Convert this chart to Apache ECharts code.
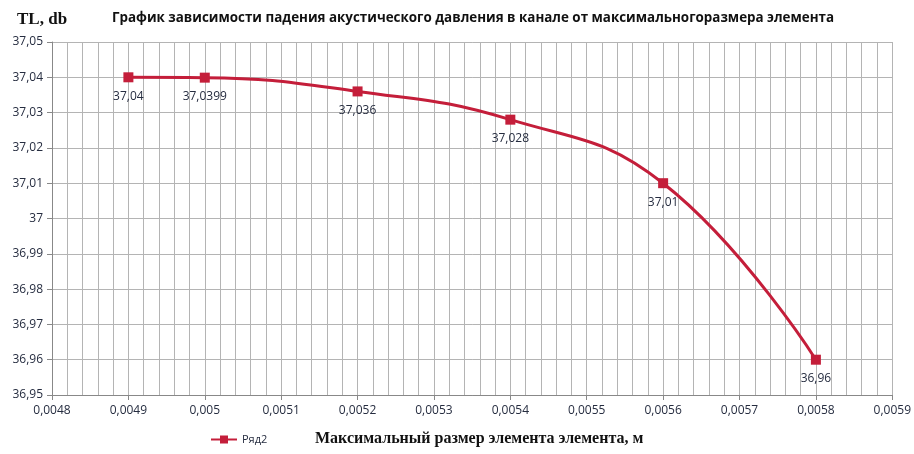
<!DOCTYPE html>
<html><head><meta charset="utf-8">
<script src="https://cdn.jsdelivr.net/npm/echarts@6/dist/echarts.min.js"></script>
<style>html,body{margin:0;padding:0;background:#fff}#c{width:914px;height:454px}</style>
</head><body><div id="c"></div>
<script>
const xValues = [0.0049, 0.005, 0.0052, 0.0054, 0.0056, 0.0058];
const yValues = [37.04, 37.0399, 37.036, 37.028, 37.01, 36.96];
const seriesName = 'Ряд2';
const titleText = 'График зависимости падения акустического давления в канале от максимальногоразмера элемента';
const yAxisName = 'TL, db';
const xAxisName = 'Максимальный размер элемента элемента, м';

const comma = v => String(v).replace('.', ',');
const chart = echarts.init(document.getElementById('c'));
const labelColor = '#262d40';
chart.setOption({
  animation: false,
  backgroundColor: '#fff',
  title: [{
    text: titleText, left: 468, top: 7, textAlign: 'center',
    textStyle: {fontFamily: 'Open Sans', fontWeight: 'bold', fontSize: 13.4, color: '#111'}
  }, {
    text: yAxisName, left: 12, top: 6,
    textStyle: {fontFamily: 'Liberation Serif', fontWeight: 'bold', fontSize: 17, color: '#111'}
  }, {
    text: xAxisName, left: 310, top: 426,
    textStyle: {fontFamily: 'Liberation Serif', fontWeight: 'bold', fontSize: 16, color: '#111'}
  }],
  legend: {
    left: 205, top: 429, itemWidth: 26, itemHeight: 10, itemGap: 4,
    textStyle: {fontFamily: 'Open Sans', fontSize: 11, color: labelColor},
    data: [seriesName]
  },
  grid: {left: 52, right: 17, top: 42, bottom: 59, containLabel: false},
  xAxis: {
    type: 'value', min: 0.0048, max: 0.0059, interval: 0.0001,
    axisLine: {show: true, lineStyle: {color: '#888', width: 1}},
    axisTick: {show: true, length: 5, lineStyle: {color: '#888'}},
    axisLabel: {fontFamily: 'Open Sans', fontSize: 12, color: labelColor, margin: 10,
      formatter: v => comma(Number(v.toFixed(4)))},
    splitLine: {show: true, lineStyle: {color: '#b4b4b4', width: 1}},
    minorTick: {show: false, splitNumber: 5},
    minorSplitLine: {show: true, lineStyle: {color: '#b4b4b4', width: 1}}
  },
  yAxis: {
    type: 'value', min: 36.95, max: 37.05, interval: 0.01,
    axisLine: {show: true, lineStyle: {color: '#888', width: 1}},
    axisTick: {show: true, length: 5, lineStyle: {color: '#888'}},
    axisLabel: {fontFamily: 'Open Sans', fontSize: 12, color: labelColor, margin: 9,
      formatter: v => comma(Number(v.toFixed(2)))},
    splitLine: {show: true, lineStyle: {color: '#b4b4b4', width: 1}}
  },
  series: [{
    name: seriesName, type: 'line', smooth: 0.45,
    data: xValues.map((x, i) => [x, yValues[i]]),
    symbol: 'rect', symbolSize: 10,
    itemStyle: {color: '#c41e3a'},
    lineStyle: {color: '#c41e3a', width: 3},
    label: {show: true, position: 'bottom', distance: 8,
      fontFamily: 'Open Sans', fontSize: 12, color: labelColor,
      formatter: p => comma(p.value[1])}
  }]
});
</script></body></html>
